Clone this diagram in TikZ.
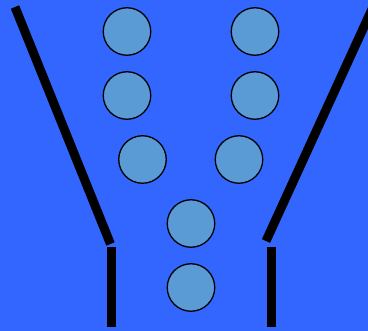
\documentclass[tikz,border=0pt]{standalone}
\definecolor{bg}{RGB}{51,102,255}
\definecolor{ballfill}{RGB}{91,155,213}
\begin{document}
\begin{tikzpicture}[x=1pt,y=-1pt,
  ball/.style={circle,draw=black,line width=1.3pt,fill=ballfill,minimum size=47.5pt,inner sep=0pt},
  wall/.style={line width=9pt,line cap=butt,black}]
\fill[bg] (0,0) rectangle (368,331);
\useasboundingbox (0,0) rectangle (368,331);
\clip (0,0) rectangle (368,331);
\node[ball] (b1) at (127,31.5) {};
\node[ball] (b2) at (255,31.5) {};
\node[ball] (b3) at (127,95.5) {};
\node[ball] (b4) at (255,95.5) {};
\node[ball] (b5) at (142.5,159.5) {};
\node[ball] (b6) at (239,159.5) {};
\node[ball] (b7) at (191,223.5) {};
\node[ball] (b8) at (191,287.5) {};
\coordinate (l1) at (15,7);
\coordinate (l2) at (110.5,244);
\coordinate (l3) at (111.5,247);
\coordinate (l4) at (111.5,327.5);
\coordinate (r1) at (373,7);
\coordinate (r2) at (266,241);
\coordinate (r3) at (271.5,247);
\coordinate (r4) at (271.5,327.5);
\draw[wall] (l1) -- (l2);
\draw[wall] (l3) -- (l4);
\draw[wall] (r1) -- (r2);
\draw[wall] (r3) -- (r4);
\end{tikzpicture}
\end{document}
